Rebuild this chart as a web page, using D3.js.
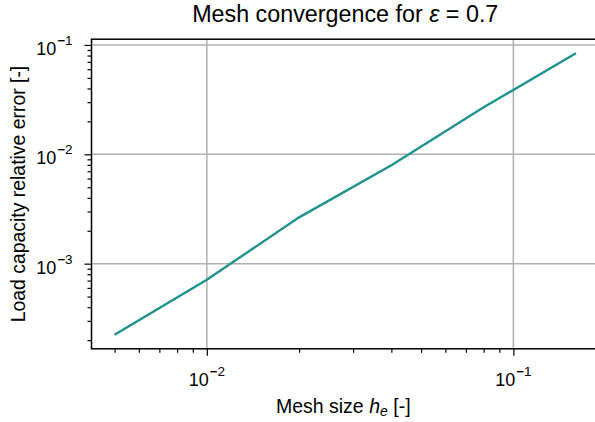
<!DOCTYPE html>
<html>
<head>
<meta charset="utf-8">
<script src="https://cdn.jsdelivr.net/npm/d3@7"></script>
<style>
  body { margin: 0; background: #fff; }
  svg { display: block; font-family: 'Liberation Sans', Arial, sans-serif; }
</style>
</head>
<body>
<svg id="chart" width="595" height="422"></svg>
<script>
// mesh sizes h_e and load capacity relative error
var meshSizes = [0.005, 0.01, 0.02, 0.04, 0.08, 0.16]
var relErrors = [2.24e-4, 7.14e-4, 2.65e-3, 7.93e-3, 2.69e-2, 8.39e-2]
var xMajor = [1e-2, 1e-1]
var yMajor = [1e-3, 1e-2, 1e-1]

var ctx = { left: 91.5, right: 599, top: 39.2, bottom: 348.8 }
var svg = d3.select('#chart')

// matplotlib style 5% margin in log space
var logPad = function (vals) {
  var lo = Math.log10(d3.min(vals)), hi = Math.log10(d3.max(vals))
  var m = (hi - lo) * 0.05
  return [Math.pow(10, lo - m), Math.pow(10, hi + m)]
}

var x = d3.scaleLog().domain(logPad(meshSizes)).range([ctx.left, ctx.right])
var y = d3.scaleLog().domain(logPad(relErrors)).range([ctx.bottom, ctx.top])

var minorOf = function (scale) {
  var d = scale.domain(), out = []
  for (var e = Math.floor(Math.log10(d[0])); e <= Math.ceil(Math.log10(d[1])); e++) {
    for (var k = 2; k <= 9; k++) {
      var v = k * Math.pow(10, e)
      if (v >= d[0] && v <= d[1]) out.push(v)
    }
  }
  return out
}

// grid
svg.append('g').selectAll('line.gx')
   .data(xMajor).enter().append('line')
   .attr('x1', d => x(d)).attr('x2', d => x(d))
   .attr('y1', ctx.top).attr('y2', ctx.bottom)
   .style('stroke', '#b0b0b0').style('stroke-width', 1.5)
svg.append('g').selectAll('line.gy')
   .data(yMajor).enter().append('line')
   .attr('x1', ctx.left).attr('x2', ctx.right)
   .attr('y1', d => y(d)).attr('y2', d => y(d))
   .style('stroke', '#b0b0b0').style('stroke-width', 1.5)

// series
var line = d3.line().x((d, i) => x(meshSizes[i])).y(d => y(d))
svg.append('path')
   .datum(relErrors)
   .attr('d', line)
   .style('fill', 'none')
   .style('stroke', '#21918c')
   .style('stroke-width', 2.4)

// axes
var styleAxis = function (g) {
  g.select('.domain').remove()
  g.selectAll('line').style('stroke', '#000').style('stroke-width', 1.2)
}
svg.append('g').attr('transform', 'translate(0,' + ctx.bottom + ')')
   .call(d3.axisBottom(x).tickValues(minorOf(x)).tickFormat('').tickSize(4))
   .call(styleAxis)
svg.append('g').attr('transform', 'translate(0,' + ctx.bottom + ')')
   .call(d3.axisBottom(x).tickValues(xMajor).tickFormat('').tickSize(7))
   .call(styleAxis)
svg.append('g').attr('transform', 'translate(' + ctx.left + ',0)')
   .call(d3.axisLeft(y).tickValues(minorOf(y)).tickFormat('').tickSize(4))
   .call(styleAxis)
svg.append('g').attr('transform', 'translate(' + ctx.left + ',0)')
   .call(d3.axisLeft(y).tickValues(yMajor).tickFormat('').tickSize(7))
   .call(styleAxis)

// spines
svg.append('rect')
   .attr('x', ctx.left).attr('y', ctx.top)
   .attr('width', ctx.right - ctx.left).attr('height', ctx.bottom - ctx.top)
   .style('fill', 'none').style('stroke', '#000').style('stroke-width', 1.5)

// tick labels 10^n
var powLabel = function (sel, v) {
  var e = Math.round(Math.log10(v))
  sel.append('tspan').text('10')
  sel.append('tspan').attr('dy', -10).attr('dx', 1).attr('font-size', 13)
     .attr('font-weight', 'bold').text('\u2212')
  sel.append('tspan').attr('font-size', 13.5).text(Math.abs(e))
}
xMajor.forEach(function (v) {
  var t = svg.append('text')
     .attr('x', x(v)).attr('y', ctx.bottom + 37)
     .attr('text-anchor', 'middle')
     .attr('font-size', 18)
  powLabel(t, v)
})
yMajor.forEach(function (v) {
  var t = svg.append('text')
     .attr('x', ctx.left - 19).attr('y', y(v) + 10)
     .attr('text-anchor', 'end')
     .attr('font-size', 18)
  powLabel(t, v)
})

// axis titles
var xl = svg.append('text')
   .attr('x', (ctx.left + ctx.right) / 2 - 2).attr('y', 413)
   .attr('text-anchor', 'middle')
   .attr('font-size', 19.5)
xl.append('tspan').text('Mesh size ')
xl.append('tspan').attr('font-style', 'italic').text('h')
xl.append('tspan').attr('font-style', 'italic').attr('font-size', 14).attr('dy', 3).text('e')
xl.append('tspan').attr('dy', -3).text(' [-]')

svg.append('text')
   .attr('transform', 'translate(25,' + ((ctx.top + ctx.bottom) / 2) + ') rotate(-90)')
   .attr('text-anchor', 'middle')
   .attr('font-size', 19.4)
   .text('Load capacity relative error [-]')

var title = svg.append('text')
   .attr('x', (ctx.left + ctx.right) / 2).attr('y', 22)
   .attr('text-anchor', 'middle')
   .attr('font-size', 23.3)
title.append('tspan').text('Mesh convergence for ')
title.append('tspan').attr('font-style', 'italic').text('\u03b5')
title.append('tspan').text(' = 0.7')
</script>
</body>
</html>
